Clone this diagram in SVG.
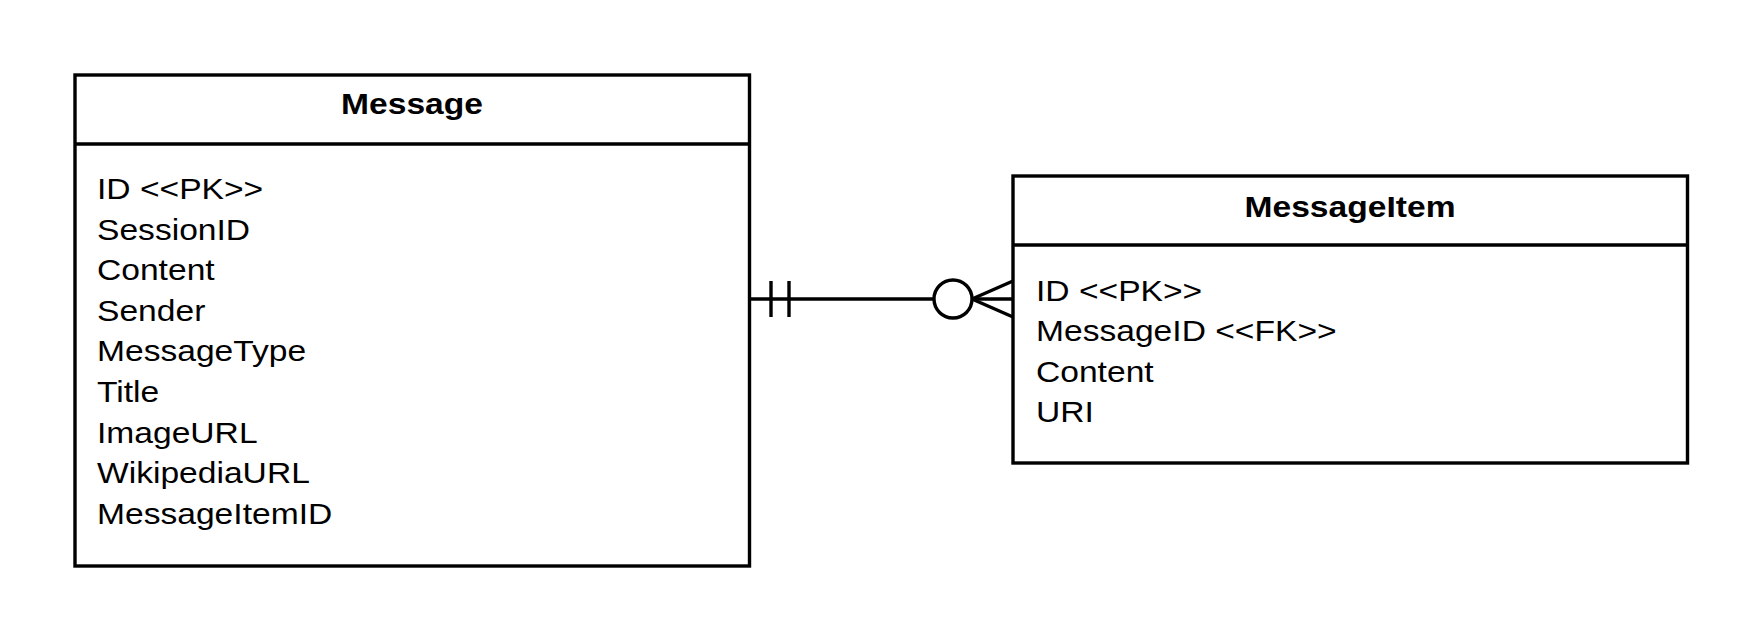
<svg xmlns="http://www.w3.org/2000/svg" width="1763" height="641" viewBox="0 0 1763 641">
<style>
.box{fill:#fff;stroke:#000;stroke-width:3.4}
.ln{fill:none;stroke:#000;stroke-width:3.4}
.t{font-family:"Liberation Sans",Arial,sans-serif;font-size:30px;fill:#000}
.h{font-weight:bold;text-anchor:middle}
</style>
<rect width="1763" height="641" fill="#fff"/>
<g id="connectors">
<line class="ln" x1="749" y1="299" x2="934" y2="299"/>
<line class="ln" x1="771" y1="281" x2="771" y2="317"/>
<line class="ln" x1="789" y1="281" x2="789" y2="317"/>
<circle class="ln" cx="953" cy="299" r="19"/>
<line class="ln" x1="972" y1="299" x2="1013" y2="281"/>
<line class="ln" x1="972" y1="299" x2="1013" y2="317"/>
<line class="ln" x1="972" y1="299" x2="1013" y2="299"/>
</g>
<g id="node-message">
<rect class="box" x="75" y="75" width="674.5" height="491"/>
<line class="ln" x1="75" y1="144" x2="749.5" y2="144"/>
<g transform="translate(412,0) scale(1.12,1)"><text class="t h" x="0" y="114.5">Message</text></g>
<g transform="translate(97,0) scale(1.12,1)">
<text class="t" x="0" y="199">ID &lt;&lt;PK&gt;&gt;</text>
<text class="t" x="0" y="239.6">SessionID</text>
<text class="t" x="0" y="280.2">Content</text>
<text class="t" x="0" y="320.8">Sender</text>
<text class="t" x="0" y="361.4">MessageType</text>
<text class="t" x="0" y="402">Title</text>
<text class="t" x="0" y="442.6">ImageURL</text>
<text class="t" x="0" y="483.2">WikipediaURL</text>
<text class="t" x="0" y="523.8">MessageItemID</text>
</g>
</g>
<g id="node-messageitem">
<rect class="box" x="1013" y="176" width="674.5" height="287"/>
<line class="ln" x1="1013" y1="245" x2="1687.5" y2="245"/>
<g transform="translate(1350,0) scale(1.12,1)"><text class="t h" x="0" y="217">MessageItem</text></g>
<g transform="translate(1036,0) scale(1.12,1)">
<text class="t" x="0" y="301">ID &lt;&lt;PK&gt;&gt;</text>
<text class="t" x="0" y="341.5">MessageID &lt;&lt;FK&gt;&gt;</text>
<text class="t" x="0" y="382">Content</text>
<text class="t" x="0" y="422.5">URI</text>
</g>
</g>
</svg>
